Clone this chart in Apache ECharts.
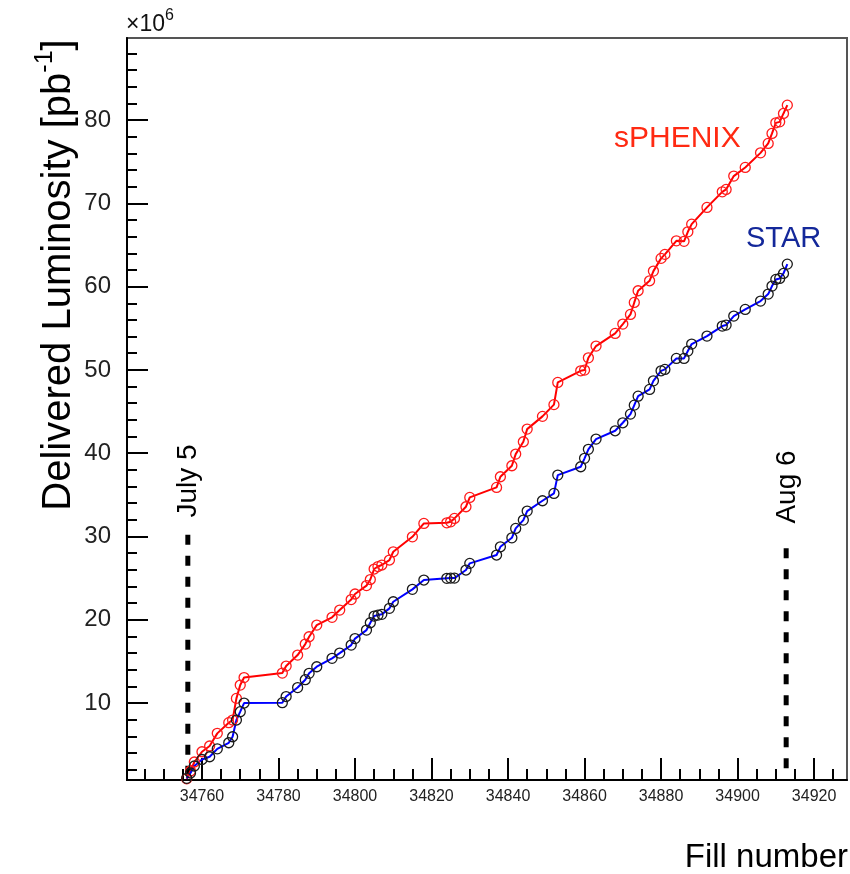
<!DOCTYPE html>
<html>
<head>
<meta charset="utf-8">
<script src="https://cdn.jsdelivr.net/npm/echarts@6/dist/echarts.min.js"></script>
<style>
  html, body { margin: 0; padding: 0; background: #fff; }
  #lumi { width: 850px; height: 874px; }
</style>
</head>
<body>
<div id="lumi"></div>
<script>
// fill numbers (shared by both experiments)
var fills = [34756, 34757, 34758, 34760, 34762, 34764, 34767, 34768, 34769, 34770,
  34771, 34781, 34782, 34785, 34787, 34788, 34790, 34794, 34796, 34799,
  34800, 34803, 34804, 34805, 34806, 34807, 34809, 34810, 34815, 34818,
  34824, 34825, 34826, 34829, 34830, 34837, 34838, 34841, 34842, 34844,
  34845, 34849, 34852, 34853, 34859, 34860, 34861, 34863, 34868, 34870,
  34872, 34873, 34874, 34877, 34878, 34880, 34881, 34884, 34886, 34887,
  34888, 34892, 34896, 34897, 34899, 34902, 34906, 34908, 34909, 34910,
  34911, 34912, 34913];

// delivered luminosity, x10^6 pb^-1
var sphenix = [0.9, 1.84, 2.92, 4.15, 4.84, 6.36, 7.64, 7.96, 10.56, 12.16,
  13.06, 13.6, 14.44, 15.76, 17.08, 17.96, 19.36, 20.29, 21.16, 22.42,
  23.09, 24.1, 24.83, 26.09, 26.39, 26.57, 27.17, 28.16, 29.96, 31.57,
  31.64, 31.76, 32.17, 33.57, 34.69, 35.89, 37.17, 38.49, 39.89, 41.37,
  42.89, 44.42, 45.83, 48.5, 49.89, 49.98, 51.45, 52.86, 54.38, 55.5,
  56.66, 58.1, 59.5, 60.7, 61.86, 63.39, 63.87, 65.5, 65.44, 66.58,
  67.5, 69.51, 71.38, 71.67, 73.27, 74.31, 76.06, 77.19, 78.39, 79.66,
  79.78, 80.79, 81.79];

var star = [0.96, 1.6, 2.44, 3.22, 3.55, 4.5, 5.23, 5.95, 7.96, 8.96,
  10.0, 10.04, 10.78, 11.86, 12.8, 13.57, 14.36, 15.37, 16.0, 16.96,
  17.74, 18.76, 19.64, 20.44, 20.56, 20.65, 21.37, 22.16, 23.65, 24.77,
  24.97, 25.0, 25.0, 25.97, 26.77, 27.77, 28.76, 29.84, 30.97, 31.97,
  33.05, 34.29, 35.17, 37.37, 38.37, 39.38, 40.46, 41.69, 42.69, 43.65,
  44.69, 45.77, 46.85, 47.66, 48.69, 49.89, 50.06, 51.38, 51.38, 52.26,
  53.1, 54.06, 55.26, 55.38, 56.46, 57.26, 58.26, 59.1, 60.06, 60.86,
  60.98, 61.58, 62.7];

// date markers
var markNames = ['July 5', 'Aug 6'];
var markFills = [34756.3, 34912.7];
var markTops = [30.2, 28.6];
var markBottom = 0.9;

// ticks
var xMajor = [34760, 34780, 34800, 34820, 34840, 34860, 34880, 34900, 34920];
var xMinor = [34745, 34750, 34755, 34760, 34765, 34770, 34775, 34780, 34785, 34790,
  34795, 34800, 34805, 34810, 34815, 34820, 34825, 34830, 34835, 34840,
  34845, 34850, 34855, 34860, 34865, 34870, 34875, 34880, 34885, 34890,
  34895, 34900, 34905, 34910, 34915, 34920, 34925];
var yMajor = [10, 20, 30, 40, 50, 60, 70, 80];
var yMinor = [2, 4, 6, 8, 10, 12, 14, 16, 18, 20, 22, 24, 26, 28, 30, 32, 34, 36, 38, 40,
  42, 44, 46, 48, 50, 52, 54, 56, 58, 60, 62, 64, 66, 68, 70, 72, 74, 76, 78, 80,
  82, 84, 86, 88];

var xMin = 34740.4, xMax = 34928.6;
var yMin = 0.76, yMax = 89.85;
var font = 'Liberation Sans';

function pairs(xs, ys) {
  var out = [];
  for (var i = 0; i < xs.length; i++) out.push([xs[i], ys[i]]);
  return out;
}
function plain(v) { return String(v); }

var chart = echarts.init(document.getElementById('lumi'), null, { renderer: 'canvas' });

var series = [
  {
    name: 'sPHENIX', type: 'line', xAxisIndex: 0, yAxisIndex: 0,
    data: pairs(fills, sphenix),
    symbol: 'circle', symbolSize: 10,
    lineStyle: { color: '#ff0000', width: 2 },
    itemStyle: { color: 'rgba(0,0,0,0)', borderColor: '#ff1a1a', borderWidth: 1.3 },
    z: 3
  },
  {
    name: 'STAR', type: 'line', xAxisIndex: 0, yAxisIndex: 0,
    data: pairs(fills, star),
    symbol: 'circle', symbolSize: 10,
    lineStyle: { color: '#0000ff', width: 2 },
    itemStyle: { color: 'rgba(0,0,0,0)', borderColor: '#1a1a1a', borderWidth: 1.3 },
    z: 3
  }
];

for (var m = 0; m < markNames.length; m++) {
  series.push({
    name: markNames[m], type: 'line', xAxisIndex: 0, yAxisIndex: 0,
    data: [[markFills[m], markTops[m]], [markFills[m], markBottom]],
    showSymbol: false, silent: true,
    lineStyle: { color: '#000', width: 5, type: [10, 11], cap: 'butt' },
    z: 2
  });
}

var axisBase = { type: 'value', min: xMin, max: xMax, position: 'bottom', splitLine: { show: false } };

option = {
  animation: false,
  backgroundColor: '#fff',
  grid: {
    left: 127, right: 3, top: 38, bottom: 94,
    show: true, borderColor: '#555', borderWidth: 2
  },
  xAxis: [
    Object.assign({}, axisBase, {
      axisLine: { show: true, lineStyle: { color: '#000', width: 2 } },
      axisTick: { show: true, inside: true, length: 22, customValues: xMajor, lineStyle: { color: '#000', width: 2 } },
      axisLabel: { show: true, customValues: xMajor, formatter: plain, margin: 9, fontSize: 16, fontFamily: font, color: '#222' }
    }),
    Object.assign({}, axisBase, {
      axisLine: { show: false },
      axisTick: { show: true, inside: true, length: 11, customValues: xMinor, lineStyle: { color: '#000', width: 2 } },
      axisLabel: { show: false }
    })
  ],
  yAxis: [
    {
      type: 'value', min: yMin, max: yMax, position: 'left', splitLine: { show: false },
      axisLine: { show: true, lineStyle: { color: '#000', width: 2 } },
      axisTick: { show: true, inside: true, length: 21, customValues: yMajor, lineStyle: { color: '#000', width: 2 } },
      axisLabel: { show: true, customValues: yMajor, formatter: plain, margin: 16, fontSize: 24, fontFamily: font, color: '#222' }
    },
    {
      type: 'value', min: yMin, max: yMax, position: 'left', splitLine: { show: false },
      axisLine: { show: false },
      axisTick: { show: true, inside: true, length: 10, customValues: yMinor, lineStyle: { color: '#000', width: 2 } },
      axisLabel: { show: false }
    }
  ],
  graphic: [
    { // exponent above the y axis
      type: 'text', left: 126, top: 8,
      style: {
        text: '{a|×10}{s|6}', fontFamily: font,
        rich: {
          a: { fontSize: 23, fontFamily: font, fill: '#111', lineHeight: 28, verticalAlign: 'bottom' },
          s: { fontSize: 16, fontFamily: font, fill: '#111', lineHeight: 28, verticalAlign: 'top' }
        }
      }
    },
    { // y title
      type: 'text', x: 56, y: 275, rotation: Math.PI / 2,
      style: {
        text: '{a|Delivered Luminosity [pb}{s|-1}{a|]}', fontFamily: font,
        textAlign: 'center', textVerticalAlign: 'middle',
        rich: {
          a: { fontSize: 40, fontFamily: font, fill: '#000', lineHeight: 46, verticalAlign: 'bottom' },
          s: { fontSize: 25, fontFamily: font, fill: '#000', lineHeight: 46, verticalAlign: 'top' }
        }
      }
    },
    { // x title
      type: 'text', x: 848, y: 858,
      style: { text: 'Fill number', fontSize: 33, fontFamily: font, fill: '#000', textAlign: 'right', textVerticalAlign: 'middle' }
    },
    {
      type: 'text', x: 614, y: 139,
      style: { text: 'sPHENIX', fontSize: 30, fontFamily: font, fill: '#ff2a12', textAlign: 'left', textVerticalAlign: 'middle' }
    },
    {
      type: 'text', x: 746, y: 239,
      style: { text: 'STAR', fontSize: 29, fontFamily: font, fill: '#14289a', textAlign: 'left', textVerticalAlign: 'middle' }
    },
    {
      type: 'text', x: 188, y: 481, rotation: Math.PI / 2,
      style: { text: markNames[0], fontSize: 28, fontFamily: font, fill: '#000', textAlign: 'center', textVerticalAlign: 'middle' }
    },
    {
      type: 'text', x: 787, y: 487, rotation: Math.PI / 2,
      style: { text: markNames[1], fontSize: 28, fontFamily: font, fill: '#000', textAlign: 'center', textVerticalAlign: 'middle' }
    }
  ],
  series: series
};

chart.setOption(option);
</script>
</body>
</html>
